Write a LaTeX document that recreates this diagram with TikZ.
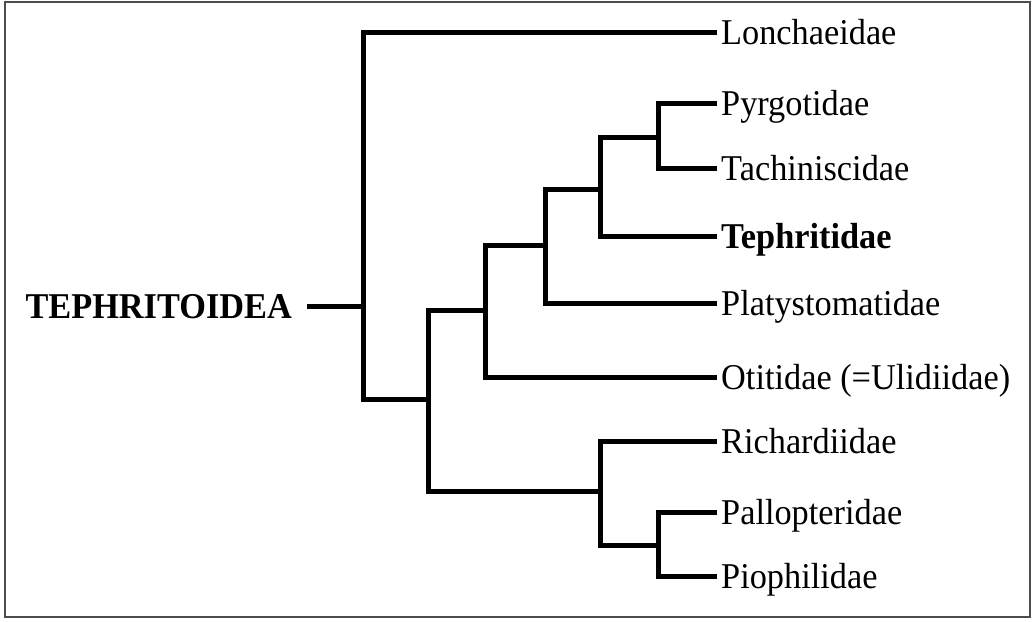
\documentclass[tikz,border=0pt]{standalone}
\usepackage{graphicx}
\usepackage{fontspec}
\setmainfont{Liberation Serif}
\newcommand{\narrowtxt}[1]{\scalebox{0.945}[1]{#1}}
\begin{document}
\begin{tikzpicture}[x=1pt,y=-1pt,
  branch/.style={line width=5pt,line join=miter},
  leaf/.style={anchor=west,inner xsep=4pt,inner ysep=0pt,text height=24pt,text depth=0pt,
    font=\fontsize{36.3}{42}\selectfont},
  rootlab/.style={anchor=east,inner xsep=15pt,inner ysep=0pt,text height=24pt,text depth=0pt,
    font=\fontsize{36.3}{42}\selectfont\bfseries}]
\useasboundingbox (0,0) rectangle (1035,621);
\draw[line width=1.5pt,black!70] (5,2) rectangle (1030,617);
% labels
\node[rootlab] (root) at (307,306) {\narrowtxt{TEPHRITOIDEA}};
\node[leaf] (lon) at (717,32) {\narrowtxt{Lonchaeidae}};
\node[leaf] (pyr) at (717,103) {\narrowtxt{Pyrgotidae}};
\node[leaf] (tac) at (717,168) {\narrowtxt{Tachiniscidae}};
\node[leaf,font=\fontsize{36.3}{42}\selectfont\bfseries] (tep) at (717,236) {\narrowtxt{Tephritidae}};
\node[leaf] (pla) at (717,303) {\narrowtxt{Platystomatidae}};
\node[leaf] (oti) at (717,377) {\narrowtxt{Otitidae (=Ulidiidae)}};
\node[leaf] (ric) at (717,441) {\narrowtxt{Richardiidae}};
\node[leaf] (pal) at (717,512) {\narrowtxt{Pallopteridae}};
\node[leaf] (pio) at (717,576) {\narrowtxt{Piophilidae}};
% internal nodes
\coordinate (n1) at (363,306);
\coordinate (n2) at (428,399);
\coordinate (n3) at (485,310);
\coordinate (n4) at (545,245);
\coordinate (n5) at (600,189);
\coordinate (n6) at (658,137);
\coordinate (n7) at (600,491);
\coordinate (n8) at (658,545);
% branches
\draw[branch] (root.east) -- (n1);
\draw[branch] (n1) |- (lon.west);
\draw[branch] (n1) |- (n2);
\draw[branch] (n2) |- (n3);
\draw[branch] (n2) |- (n7);
\draw[branch] (n3) |- (n4);
\draw[branch] (n3) |- (oti.west);
\draw[branch] (n4) |- (n5);
\draw[branch] (n4) |- (pla.west);
\draw[branch] (n5) |- (n6);
\draw[branch] (n5) |- (tep.west);
\draw[branch] (n6) |- (pyr.west);
\draw[branch] (n6) |- (tac.west);
\draw[branch] (n7) |- (ric.west);
\draw[branch] (n7) |- (n8);
\draw[branch] (n8) |- (pal.west);
\draw[branch] (n8) |- (pio.west);
\end{tikzpicture}
\end{document}
